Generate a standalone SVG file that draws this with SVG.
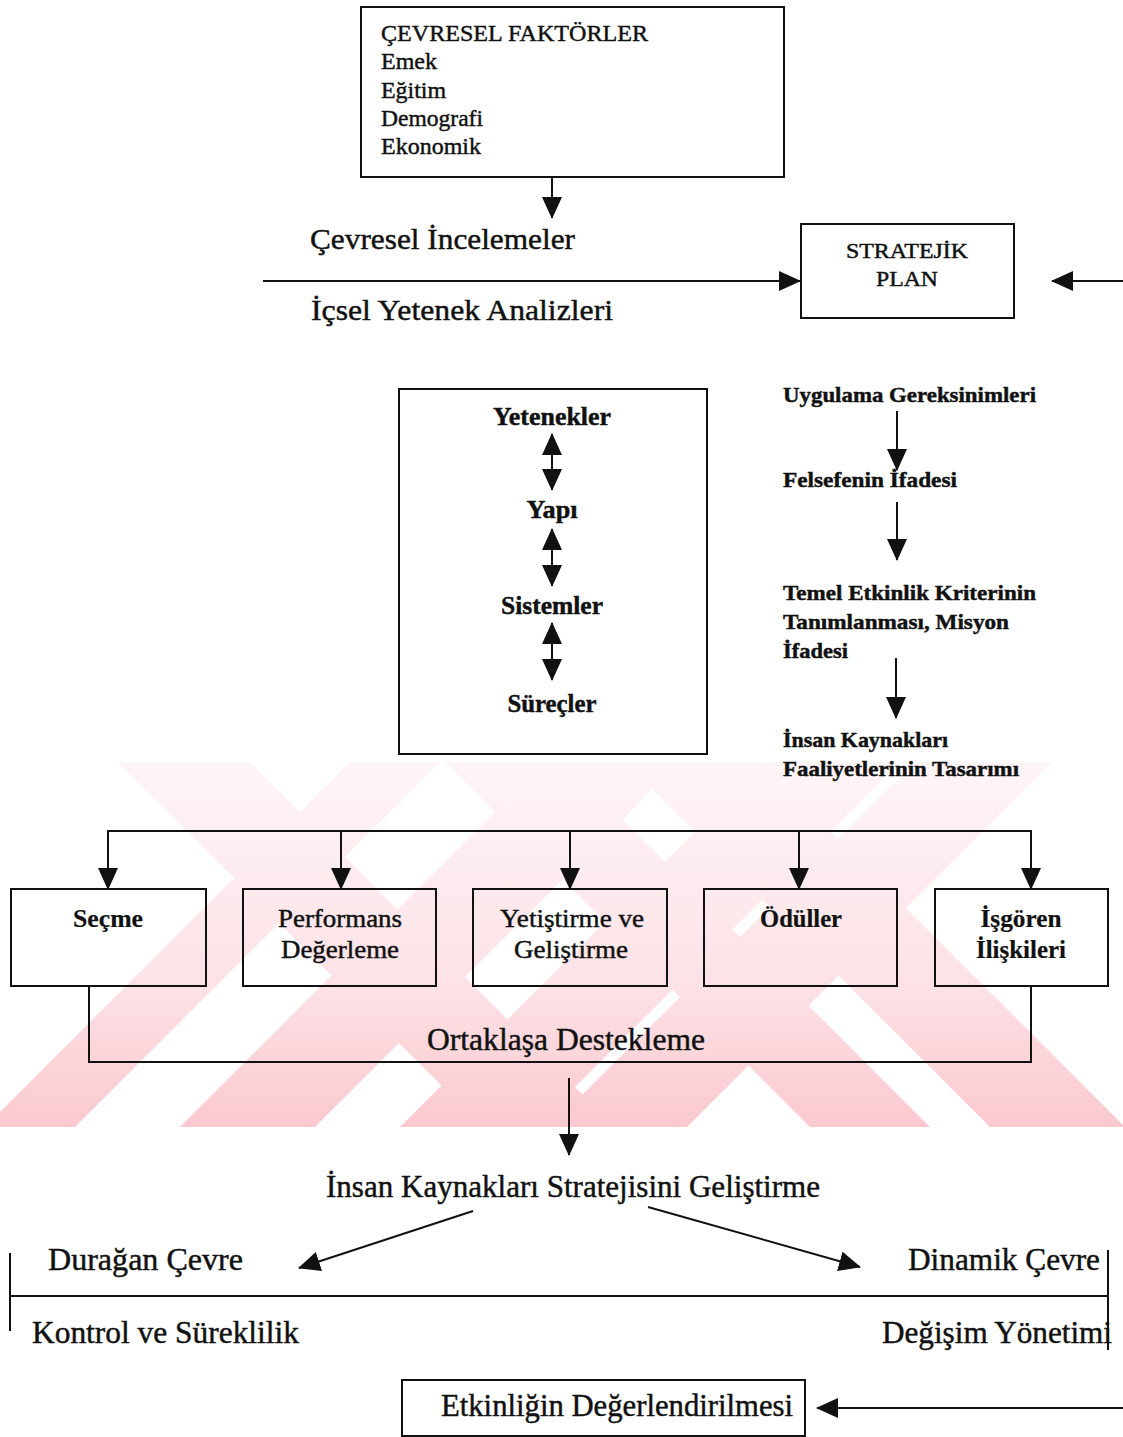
<svg xmlns="http://www.w3.org/2000/svg" width="1123" height="1437" viewBox="0 0 1123 1437">
  <defs>
    <style>
      text { font-family: "Liberation Serif", "Times New Roman", serif; fill: #111; stroke: #111; stroke-width: 0.45; }
      .box { fill: none; stroke: #111; stroke-width: 2; }
      .ln { fill: none; stroke: #111; stroke-width: 2; }
      .arr { marker-end: url(#head); }
      .dbl { marker-start: url(#head); marker-end: url(#head); }
      .b { font-weight: bold; stroke-width: 0.2; }
    </style>
    <marker id="head" markerUnits="userSpaceOnUse" markerWidth="22" markerHeight="20" viewBox="0 0 22 20" refX="21" refY="10" orient="auto-start-reverse">
      <path d="M0,0 L22,10 L0,20 z" fill="#111"/>
    </marker>
    <linearGradient id="wm" x1="0" y1="762" x2="0" y2="1127" gradientUnits="userSpaceOnUse">
      <stop offset="0" stop-color="#fef5f7"/>
      <stop offset="0.6" stop-color="#fce2e6"/>
      <stop offset="1" stop-color="#fac9cf"/>
    </linearGradient>
    <clipPath id="wmclip">
      <rect x="0" y="762" width="1123" height="365"/>
    </clipPath>
  </defs>

  <rect width="1123" height="1437" fill="#fff"/>

  <!-- background stamp: crossing diagonal bands -->
  <g id="stamp" clip-path="url(#wmclip)" fill="url(#wm)">
    <path d="M118,762 H250 L615,1127 H483 Z
             M445,762 H565 L930,1127 H810 Z
             M625,762 H760 L1125,1127 H990 Z
             M350,762 H440 L75,1127 H-15 Z
             M545,762 H680 L315,1127 H180 Z
             M765,762 H900 L535,1127 H400 Z
             M915,762 H1052 L687,1127 H550 Z"/>
  </g>

  <!-- connectors -->
  <g id="connectors">
    <path class="ln arr" d="M552,177 V218"/>
    <path class="ln arr" d="M263,281 H800"/>
    <path class="ln arr" d="M1123,281 H1052"/>
    <path class="ln dbl" d="M552,434 V490"/>
    <path class="ln dbl" d="M552,529 V586"/>
    <path class="ln dbl" d="M552,623 V680"/>
    <path class="ln arr" d="M897,411 V470"/>
    <path class="ln arr" d="M897,502 V560"/>
    <path class="ln arr" d="M896,658 V718"/>
    <path class="ln" d="M108,831 H1031"/>
    <path class="ln arr" d="M108,830 V889"/>
    <path class="ln arr" d="M341,831 V889"/>
    <path class="ln arr" d="M570,831 V889"/>
    <path class="ln arr" d="M799,831 V889"/>
    <path class="ln arr" d="M1031,830 V889"/>
    <path class="ln" d="M89,986 V1062 H1031 V986"/>
    <path class="ln arr" d="M569,1078 V1155"/>
    <path class="ln arr" d="M473,1211 L299,1268"/>
    <path class="ln arr" d="M648,1207 L860,1267"/>
    <path class="ln" d="M10,1253 V1331"/>
    <path class="ln" d="M1108,1250 V1350"/>
    <path class="ln" d="M10,1296 H1108"/>
    <path class="ln arr" d="M1123,1408 H817"/>
  </g>

  <g id="cevresel-faktorler">
    <rect class="box" x="361" y="7" width="423" height="170"/>
    <text x="381" y="41" font-size="24" textLength="267" lengthAdjust="spacingAndGlyphs">ÇEVRESEL FAKTÖRLER</text>
    <text x="381" y="69" font-size="24" textLength="56" lengthAdjust="spacingAndGlyphs">Emek</text>
    <text x="381" y="98" font-size="24" textLength="65" lengthAdjust="spacingAndGlyphs">Eğitim</text>
    <text x="381" y="126" font-size="24" textLength="102" lengthAdjust="spacingAndGlyphs">Demografi</text>
    <text x="381" y="154" font-size="24" textLength="100" lengthAdjust="spacingAndGlyphs">Ekonomik</text>
  </g>

  <g id="incelemeler">
    <text x="310" y="249" font-size="30" textLength="265" lengthAdjust="spacingAndGlyphs">Çevresel İncelemeler</text>
    <text x="311" y="320" font-size="30" textLength="302" lengthAdjust="spacingAndGlyphs">İçsel Yetenek Analizleri</text>
  </g>

  <g id="stratejik-plan">
    <rect class="box" x="801" y="224" width="213" height="94"/>
    <text x="907" y="258" font-size="22" text-anchor="middle" textLength="122" lengthAdjust="spacingAndGlyphs">STRATEJİK</text>
    <text x="907" y="286" font-size="22" text-anchor="middle" textLength="62" lengthAdjust="spacingAndGlyphs">PLAN</text>
  </g>

  <g id="orgut-ogeleri" class="b">
    <rect class="box" x="399" y="389" width="308" height="365"/>
    <text x="552" y="425" font-size="26" text-anchor="middle" textLength="118" lengthAdjust="spacingAndGlyphs">Yetenekler</text>
    <text x="552" y="518" font-size="26" text-anchor="middle" textLength="51" lengthAdjust="spacingAndGlyphs">Yapı</text>
    <text x="552" y="614" font-size="26" text-anchor="middle" textLength="102" lengthAdjust="spacingAndGlyphs">Sistemler</text>
    <text x="552" y="712" font-size="26" text-anchor="middle" textLength="89" lengthAdjust="spacingAndGlyphs">Süreçler</text>
  </g>

  <g id="uygulama" class="b">
    <text x="783" y="402" font-size="22" textLength="253" lengthAdjust="spacingAndGlyphs">Uygulama Gereksinimleri</text>
    <text x="783" y="487" font-size="22" textLength="174" lengthAdjust="spacingAndGlyphs">Felsefenin İfadesi</text>
    <text x="783" y="600" font-size="22" textLength="253" lengthAdjust="spacingAndGlyphs">Temel Etkinlik Kriterinin</text>
    <text x="783" y="629" font-size="22" textLength="226" lengthAdjust="spacingAndGlyphs">Tanımlanması, Misyon</text>
    <text x="783" y="658" font-size="22" textLength="65" lengthAdjust="spacingAndGlyphs">İfadesi</text>
    <text x="783" y="747" font-size="22" textLength="165" lengthAdjust="spacingAndGlyphs">İnsan Kaynakları</text>
    <text x="783" y="776" font-size="22" textLength="236" lengthAdjust="spacingAndGlyphs">Faaliyetlerinin Tasarımı</text>
  </g>

  <g id="secme">
    <rect class="box" x="11" y="889" width="195" height="97"/>
    <text class="b" x="108" y="927" font-size="25" text-anchor="middle" textLength="70" lengthAdjust="spacingAndGlyphs">Seçme</text>
  </g>
  <g id="performans">
    <rect class="box" x="243" y="889" width="193" height="97"/>
    <text x="340" y="927" font-size="25" text-anchor="middle" textLength="124" lengthAdjust="spacingAndGlyphs">Performans</text>
    <text x="340" y="958" font-size="25" text-anchor="middle" textLength="118" lengthAdjust="spacingAndGlyphs">Değerleme</text>
  </g>
  <g id="yetistirme">
    <rect class="box" x="473" y="889" width="194" height="97"/>
    <text x="572" y="927" font-size="25" text-anchor="middle" textLength="144" lengthAdjust="spacingAndGlyphs">Yetiştirme ve</text>
    <text x="571" y="958" font-size="25" text-anchor="middle" textLength="114" lengthAdjust="spacingAndGlyphs">Geliştirme</text>
  </g>
  <g id="oduller">
    <rect class="box" x="704" y="889" width="193" height="97"/>
    <text class="b" x="801" y="927" font-size="25" text-anchor="middle" textLength="82" lengthAdjust="spacingAndGlyphs">Ödüller</text>
  </g>
  <g id="isgoren">
    <rect class="box" x="935" y="889" width="173" height="97"/>
    <text class="b" x="1021" y="927" font-size="25" text-anchor="middle" textLength="81" lengthAdjust="spacingAndGlyphs">İşgören</text>
    <text class="b" x="1021" y="958" font-size="25" text-anchor="middle" textLength="90" lengthAdjust="spacingAndGlyphs">İlişkileri</text>
  </g>

  <g id="ortaklasa">
    <text x="566" y="1050" font-size="31" text-anchor="middle" textLength="278" lengthAdjust="spacingAndGlyphs">Ortaklaşa Destekleme</text>
  </g>

  <g id="ik-stratejisi">
    <text x="573" y="1197" font-size="31" text-anchor="middle" textLength="494" lengthAdjust="spacingAndGlyphs">İnsan Kaynakları Stratejisini Geliştirme</text>
  </g>

  <g id="cevre">
    <text x="48" y="1270" font-size="31" textLength="195" lengthAdjust="spacingAndGlyphs">Durağan Çevre</text>
    <text x="908" y="1270" font-size="31" textLength="192" lengthAdjust="spacingAndGlyphs">Dinamik Çevre</text>
    <text x="32" y="1343" font-size="31" textLength="267" lengthAdjust="spacingAndGlyphs">Kontrol ve Süreklilik</text>
    <text x="882" y="1343" font-size="31" textLength="230" lengthAdjust="spacingAndGlyphs">Değişim Yönetimi</text>
  </g>

  <g id="etkinlik">
    <rect class="box" x="402" y="1380" width="403" height="56"/>
    <text x="441" y="1416" font-size="31" textLength="352" lengthAdjust="spacingAndGlyphs">Etkinliğin Değerlendirilmesi</text>
  </g>
</svg>
